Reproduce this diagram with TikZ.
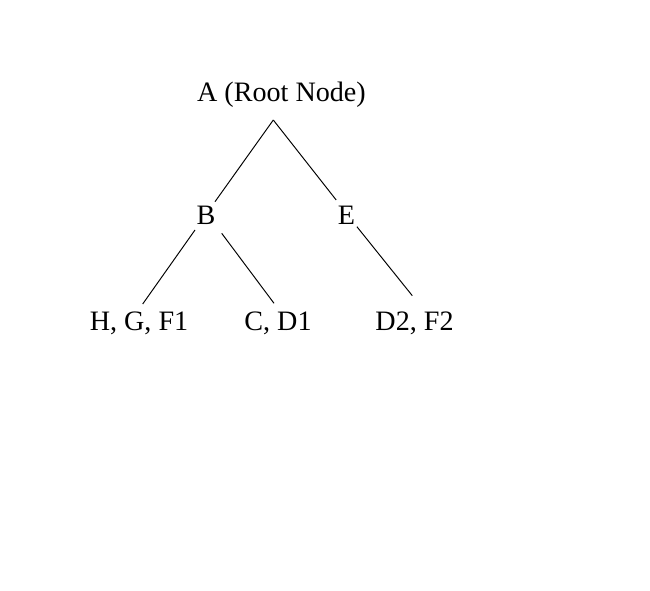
\documentclass[tikz,border=0pt]{standalone}
\usepackage{fontspec}
\setmainfont{Liberation Serif}
\usepackage{tikz}

\begin{document}
\begin{tikzpicture}[every node/.style={anchor=base, inner sep=0pt, font=\fontsize{16}{19}\selectfont},
    edge/.style={line width=0.55pt}]
  \useasboundingbox (0,0) rectangle (13,11.8);

  \node (root) at (5.63,9.76) {A (Root Node)};
  \node (b) at (4.12,7.32) {B};
  \node (e) at (6.93,7.32) {E};
  \node (hgf) at (2.78,5.2) {H, G, F1};
  \node (cd) at (5.56,5.2) {C, D1};
  \node (df) at (8.29,5.2) {D2, F2};

  \draw[edge] ([shift={(-0.164,-0.36)}]root.base) -- ([shift={(0.18,0.446)}]b.base);
  \draw[edge] ([shift={(-0.164,-0.36)}]root.base) -- ([shift={(-0.206,0.48)}]e.base);
  \draw[edge] ([shift={(-0.22,-0.12)}]b.base) -- ([shift={(0.074,0.52)}]hgf.base);
  \draw[edge] ([shift={(0.314,-0.186)}]b.base) -- ([shift={(-0.08,0.534)}]cd.base);
  \draw[edge] ([shift={(0.208,-0.054)}]e.base) -- ([shift={(-0.044,0.686)}]df.base);

\end{tikzpicture}
\end{document}
